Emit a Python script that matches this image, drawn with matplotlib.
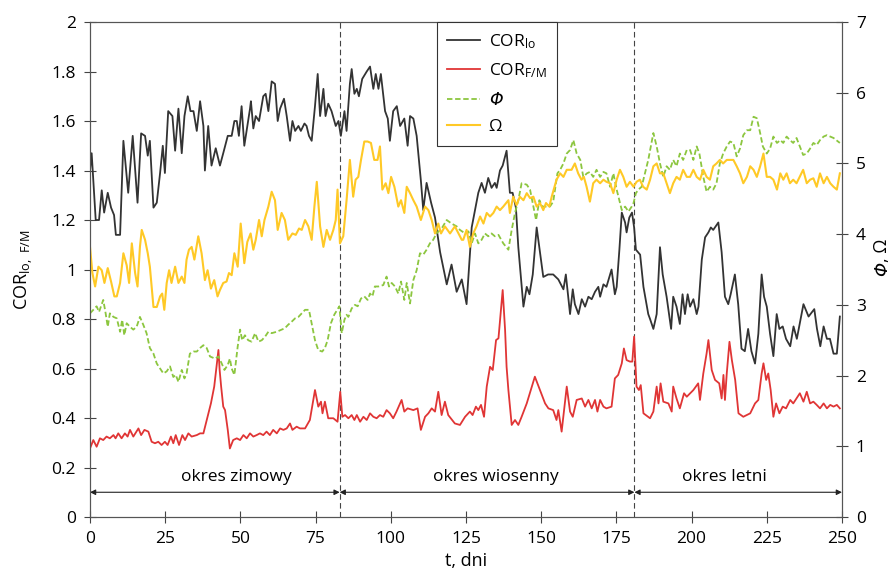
import matplotlib
matplotlib.use('Agg')
import matplotlib.pyplot as plt
from matplotlib.lines import Line2D

plt.rcParams['font.family'] = ['Open Sans', 'DejaVu Sans']
plt.rcParams['mathtext.fontset'] = 'custom'
plt.rcParams['mathtext.rm'] = 'Open Sans'
plt.rcParams['mathtext.default'] = 'regular'

# COR lo (lewa oś) - dni i wartości
lo_days = [0.0, 0.55, 1.9, 3.0, 3.9, 4.7, 5.9, 7.0, 8.0, 8.6, 10.0, 11.1, 12.7, 14.2, 15.8, 17.0, 18.3,
           19.2, 19.9, 21.1, 22.2, 23.3, 24.2, 24.9, 26.0, 27.4, 28.3, 29.4, 30.5, 31.4, 32.5, 33.4, 34.4,
           35.5, 36.6, 37.7, 38.2, 39.3, 40.4, 41.8, 43.2, 44.3, 45.8, 47.1, 48.0, 48.8, 49.5, 50.4, 51.3,
           53.2, 53.5, 54.3, 55.1, 56.2, 57.6, 58.4, 59.3, 60.4, 61.5, 62.4, 63.2, 64.5, 65.4, 66.5, 67.3,
           68.2, 69.3, 70.1, 71.3, 72.0, 72.8, 73.7, 74.8, 75.7, 76.5, 77.6, 78.3, 79.2, 80.3, 81.7, 82.6,
           83.4, 84.6, 85.3, 86.4, 87.0, 87.9, 88.7, 89.4, 90.5, 92.0, 93.1, 94.2, 95.0, 95.9, 96.7, 98.1,
           99.0, 99.7, 100.8, 102.0, 103.1, 104.5, 105.6, 106.4, 107.5, 108.6, 110.0, 110.8, 111.9, 113.4,
           114.7, 116.4, 118.6, 120.2, 121.9, 123.6, 125.2, 126.9, 129.1, 130.2, 131.3, 132.4, 133.5, 134.6,
           135.2, 136.3, 137.2, 138.5, 139.6, 140.5, 141.6, 142.4, 144.1, 145.2, 146.1, 147.2, 148.5, 149.6,
           150.7, 152.3, 154.0, 155.7, 157.4, 158.2, 159.6, 160.5, 161.2, 162.4, 163.5, 164.6, 165.7, 166.8,
           167.9, 169.0, 169.6, 170.7, 171.7, 173.4, 174.5, 175.1, 176.0, 176.8, 177.9, 178.4, 179.3, 180.2,
           180.9, 181.5, 182.9, 184.0, 185.6, 186.2, 187.3, 188.4, 189.5, 190.4, 191.7, 193.2, 193.9, 195.0,
           196.1, 197.0, 197.8, 198.7, 199.5, 200.6, 201.7, 202.3, 203.4, 204.5, 205.6, 206.4, 207.2, 208.9,
           210.0, 211.1, 212.2, 213.0, 214.4, 215.5, 216.6, 217.7, 218.8, 219.9, 221.1, 222.2, 223.3, 224.1,
           225.0, 226.1, 227.2, 228.3, 229.2, 230.3, 231.4, 232.8, 233.9, 235.0, 237.2, 238.9, 240.8, 241.7,
           242.8, 243.9, 245.0, 246.0, 247.2, 248.3, 249.3]
lo_vals = [1.40, 1.47, 1.20, 1.20, 1.32, 1.23, 1.31, 1.25, 1.22, 1.14, 1.14, 1.52, 1.31, 1.54, 1.27, 1.55, 1.54,
           1.46, 1.52, 1.25, 1.27, 1.39, 1.50, 1.39, 1.64, 1.62, 1.48, 1.65, 1.47, 1.62, 1.70, 1.64, 1.64,
           1.56, 1.68, 1.58, 1.40, 1.58, 1.42, 1.49, 1.42, 1.47, 1.54, 1.54, 1.60, 1.60, 1.54, 1.66, 1.50,
           1.65, 1.68, 1.57, 1.62, 1.60, 1.70, 1.71, 1.64, 1.76, 1.75, 1.60, 1.65, 1.69, 1.62, 1.52, 1.60,
           1.56, 1.58, 1.56, 1.59, 1.58, 1.54, 1.52, 1.66, 1.79, 1.62, 1.73, 1.62, 1.67, 1.64, 1.58, 1.60,
           1.54, 1.64, 1.56, 1.75, 1.81, 1.71, 1.73, 1.70, 1.77, 1.80, 1.82, 1.73, 1.79, 1.73, 1.79, 1.64,
           1.61, 1.52, 1.64, 1.66, 1.58, 1.61, 1.50, 1.62, 1.61, 1.54, 1.36, 1.24, 1.35, 1.27,
           1.21, 1.07, 0.94, 1.02, 0.91, 0.96, 0.86, 1.17, 1.31, 1.35, 1.31, 1.37, 1.33, 1.35,
           1.33, 1.40, 1.42, 1.48, 1.31, 1.31, 1.25, 1.09, 0.85, 0.93, 0.90, 0.98, 1.17, 1.07,
           0.97, 0.98, 0.98, 0.96, 0.92, 0.98, 0.82, 0.92, 0.86, 0.82, 0.88, 0.85, 0.89, 0.88,
           0.91, 0.93, 0.89, 0.94, 0.93, 1.00, 0.90, 0.93, 1.08, 1.23, 1.19, 1.15, 1.21, 1.23,
           1.17, 1.08, 1.06, 0.93, 0.82, 0.80, 0.76, 0.82, 1.09, 0.98, 0.89, 0.76, 0.89, 0.85,
           0.78, 0.90, 0.82, 0.90, 0.85, 0.88, 0.82, 0.85, 1.04, 1.13, 1.15, 1.17, 1.16, 1.19,
           1.07, 0.89, 0.86, 0.90, 0.98, 0.86, 0.68, 0.67, 0.76, 0.67, 0.62, 0.74, 0.98, 0.89,
           0.85, 0.74, 0.65, 0.82, 0.76, 0.77, 0.72, 0.69, 0.77, 0.72, 0.86, 0.81, 0.84, 0.76,
           0.69, 0.77, 0.72, 0.72, 0.66, 0.66, 0.81]

# COR F/M (lewa oś)
fm_days = [0.0, 1.1, 2.2, 3.3, 4.4, 5.5, 6.6, 7.8, 8.5, 9.4, 10.5, 11.6, 12.5, 13.3, 14.4, 16.1, 17.0, 18.1,
           19.4, 20.5, 21.6, 22.7, 23.8, 24.9, 25.8, 26.9, 27.7, 28.5, 29.6, 30.7, 31.6, 32.7, 33.8, 35.5,
           36.6, 37.7, 38.8, 40.2, 41.3, 42.7, 43.1, 43.6, 44.3, 44.9, 45.8, 46.5, 47.6, 48.8, 49.9, 51.0,
           52.1, 53.2, 54.3, 55.4, 56.5, 57.6, 58.7, 59.8, 60.9, 62.1, 63.2, 64.3, 65.4, 66.5, 67.3, 68.7,
           69.8, 71.5, 73.1, 74.8, 75.9, 76.8, 77.3, 78.1, 79.2, 80.9, 82.3, 83.2, 83.9, 84.8, 85.9, 87.0,
           87.9, 88.7, 89.8, 90.9, 92.0, 93.1, 94.2, 95.3, 96.4, 97.5, 98.6, 99.7, 100.8, 101.9, 103.6,
           104.5, 105.6, 107.5, 108.9, 110.0, 111.4, 112.5, 113.6, 114.7, 115.8, 116.9, 118.0, 119.1,
           121.3, 123.0, 124.7, 126.3, 127.2, 128.3, 129.1, 130.0, 131.0, 131.9, 133.0, 133.9, 135.0,
           135.8, 137.2, 138.0, 138.5, 139.1, 140.2, 141.3, 142.4, 143.5, 145.2, 147.9, 149.6, 151.3,
           152.4, 154.0, 155.1, 155.7, 156.8, 158.5, 159.6, 160.5, 161.8, 163.5, 164.6, 165.7, 166.8,
           167.9, 168.7, 169.6, 170.7, 171.7, 173.4, 174.5, 175.6, 176.8, 177.5, 178.4, 179.5, 180.3,
           180.9, 181.7, 182.5, 183.1, 184.0, 186.2, 187.3, 188.4, 189.0, 189.7, 190.6, 192.3, 193.4,
           193.9, 195.0, 196.1, 197.5, 198.4, 200.6, 202.2, 202.8, 203.9, 205.0, 205.6, 206.7, 207.8,
           209.2, 210.0, 210.6, 211.1, 211.7, 212.6, 213.4, 214.5, 215.6, 217.2, 219.5, 221.1, 222.2,
           223.3, 223.9, 224.8, 225.5, 226.3, 227.2, 228.1, 229.2, 230.3, 231.4, 232.8, 233.8, 236.0,
           237.2, 238.3, 239.4, 240.5, 241.6, 242.7, 243.9, 245.0, 246.1, 247.2, 248.3, 249.3]
fm_vals = [0.277, 0.311, 0.284, 0.318, 0.311, 0.325, 0.318, 0.331, 0.318, 0.338, 0.318, 0.338, 0.325, 0.352,
           0.325, 0.358, 0.331, 0.352, 0.345, 0.304, 0.298, 0.304, 0.291, 0.304, 0.291, 0.325, 0.298, 0.331,
           0.291, 0.331, 0.311, 0.338, 0.325, 0.331, 0.338, 0.338, 0.392, 0.459, 0.527, 0.675, 0.594, 0.527,
           0.446, 0.432, 0.352, 0.277, 0.311, 0.318, 0.311, 0.331, 0.318, 0.338, 0.325, 0.331, 0.338, 0.331,
           0.345, 0.331, 0.352, 0.338, 0.358, 0.352, 0.358, 0.378, 0.352, 0.365, 0.358, 0.358, 0.392, 0.513,
           0.446, 0.466, 0.419, 0.466, 0.399, 0.399, 0.385, 0.506, 0.405, 0.412, 0.399, 0.412, 0.392, 0.412,
           0.385, 0.405, 0.392, 0.419, 0.405, 0.399, 0.412, 0.405, 0.432, 0.419, 0.399, 0.426, 0.473, 0.426,
           0.439, 0.432, 0.439, 0.352, 0.405, 0.419, 0.439, 0.426, 0.506, 0.412, 0.466, 0.412, 0.378, 0.372,
           0.405, 0.426, 0.412, 0.446, 0.432, 0.453, 0.405, 0.527, 0.607, 0.594, 0.715, 0.722, 0.917, 0.756,
           0.607, 0.513, 0.372, 0.392, 0.372, 0.405, 0.459, 0.567, 0.513, 0.459, 0.439, 0.432, 0.392, 0.432,
           0.345, 0.527, 0.426, 0.405, 0.473, 0.479, 0.446, 0.473, 0.439, 0.473, 0.426, 0.473, 0.446, 0.439,
           0.446, 0.560, 0.574, 0.621, 0.681, 0.634, 0.628, 0.628, 0.729, 0.527, 0.513, 0.533, 0.419, 0.399,
           0.426, 0.527, 0.459, 0.540, 0.466, 0.459, 0.426, 0.527, 0.479, 0.439, 0.500, 0.486, 0.513, 0.540,
           0.473, 0.580, 0.661, 0.715, 0.594, 0.554, 0.540, 0.479, 0.574, 0.473, 0.580, 0.708, 0.634, 0.554,
           0.419, 0.405, 0.419, 0.459, 0.473, 0.580, 0.621, 0.554, 0.580, 0.513, 0.405, 0.459, 0.419, 0.446,
           0.439, 0.473, 0.459, 0.500, 0.466, 0.506, 0.459, 0.466, 0.453, 0.439, 0.459, 0.439, 0.453, 0.446,
           0.453, 0.439]

# Phi (prawa oś)
phi_days = [0.0, 1.1, 2.2, 3.0, 4.4, 5.2, 5.9, 6.6, 7.8, 8.9, 10.0, 10.7, 11.4, 12.2, 13.3, 14.4, 15.5, 16.6,
            17.7, 18.8, 19.9, 21.1, 22.2, 23.3, 24.4, 25.5, 26.6, 27.7, 28.5, 29.4, 30.5, 31.4, 32.1, 33.2,
            34.4, 35.5, 36.6, 37.7, 38.8, 39.9, 41.6, 42.7, 43.8, 44.7, 45.8, 46.5, 47.1, 48.0, 49.1, 49.9,
            50.6, 51.5, 52.6, 53.7, 54.9, 56.0, 57.1, 58.2, 59.3, 60.4, 62.1, 63.7, 64.8, 65.9, 67.0, 68.2,
            69.3, 70.4, 71.5, 72.8, 73.9, 74.8, 75.9, 77.2, 78.1, 79.0, 80.1, 81.2, 82.2, 82.9, 83.7, 84.6,
            85.3, 85.9, 87.0, 88.1, 89.0, 90.1, 91.2, 92.3, 93.1, 93.9, 94.7, 95.9, 97.5, 98.6, 99.4, 100.3,
            101.4, 102.5, 103.4, 104.5, 105.3, 106.4, 107.5, 108.6, 109.7, 110.8, 111.9, 113.0, 114.1, 115.2,
            116.9, 118.6, 120.2, 121.9, 123.0, 124.7, 125.8, 126.9, 128.0, 129.1, 130.2, 131.3, 132.4,
            133.5, 134.6, 135.8, 137.4, 139.1, 140.2, 141.3, 142.4, 143.5, 145.2, 146.3, 147.4, 148.3,
            149.4, 150.4, 151.6, 152.9, 154.0, 155.4, 156.3, 157.4, 158.5, 159.6, 160.7, 161.8, 163.0,
            164.0, 165.2, 166.2, 167.3, 168.4, 169.6, 170.7, 171.7, 172.9, 174.0, 175.1, 176.8, 177.9,
            179.0, 180.1, 180.7, 181.5, 182.3, 183.4, 184.5, 185.6, 187.3, 188.4, 189.5, 190.6, 191.7,
            192.8, 193.9, 195.0, 196.1, 197.2, 198.4, 199.5, 200.6, 201.7, 202.6, 203.9, 205.0, 206.1,
            207.2, 208.3, 209.4, 210.5, 211.7, 212.8, 213.9, 215.0, 216.1, 217.2, 218.4, 219.5, 220.6,
            221.7, 222.8, 223.7, 225.0, 226.1, 227.2, 228.4, 229.5, 230.5, 231.6, 232.7, 233.8, 234.9,
            236.0, 237.1, 238.3, 239.4, 240.5, 241.6, 242.7, 243.9, 245.0, 246.1, 247.2, 249.3]
phi_vals = [2.88, 2.93, 2.98, 2.90, 3.07, 2.88, 2.69, 2.88, 2.83, 2.81, 2.62, 2.79, 2.57, 2.74, 2.69, 2.65,
            2.69, 2.83, 2.72, 2.60, 2.39, 2.31, 2.17, 2.10, 2.03, 2.06, 2.13, 1.98, 2.01, 1.91, 2.08, 1.96,
            2.03, 2.31, 2.34, 2.34, 2.39, 2.43, 2.39, 2.27, 2.24, 2.27, 2.17, 2.08, 2.15, 2.24, 2.10, 2.01,
            2.41, 2.65, 2.50, 2.57, 2.50, 2.48, 2.60, 2.48, 2.50, 2.55, 2.62, 2.60, 2.62, 2.65, 2.67, 2.72,
            2.76, 2.81, 2.83, 2.88, 2.93, 2.93, 2.69, 2.50, 2.36, 2.34, 2.39, 2.50, 2.74, 2.86, 2.93, 2.98,
            2.60, 2.79, 2.86, 2.83, 2.95, 3.00, 2.98, 3.09, 3.12, 3.07, 3.16, 3.12, 3.26, 3.26, 3.28, 3.40,
            3.26, 3.31, 3.26, 3.16, 3.33, 3.07, 3.31, 3.02, 3.35, 3.49, 3.73, 3.71, 3.78, 3.87, 3.92, 4.01,
            4.08, 4.20, 4.15, 4.11, 4.06, 4.01, 4.04, 3.87, 4.01, 3.87, 3.92, 4.01, 3.97, 4.01, 3.97, 3.99,
            3.87, 3.78, 4.06, 4.30, 4.48, 4.72, 4.70, 4.63, 4.39, 4.20, 4.48, 4.39, 4.39, 4.39, 4.46, 4.86,
            4.91, 5.00, 5.14, 5.19, 5.33, 5.14, 5.05, 4.81, 4.86, 4.88, 4.81, 4.91, 4.81, 4.88, 4.86, 4.67,
            4.86, 4.63, 4.34, 4.39, 4.32, 4.39, 4.44, 4.58, 4.63, 4.67, 4.86, 5.05, 5.43, 5.24, 5.00, 4.81,
            4.96, 4.91, 5.05, 4.96, 5.14, 5.05, 5.19, 5.19, 5.05, 5.24, 5.14, 4.81, 4.60, 4.67, 4.63, 4.72,
            5.00, 5.14, 5.24, 5.31, 5.29, 5.10, 5.21, 5.40, 5.47, 5.47, 5.66, 5.64, 5.43, 5.24, 5.14, 5.21,
            5.38, 5.29, 5.33, 5.29, 5.38, 5.33, 5.29, 5.36, 5.24, 5.12, 5.14, 5.21, 5.29, 5.26, 5.33, 5.38,
            5.40, 5.38, 5.36, 5.29]

# Omega (prawa oś)
om_days = [0.0, 0.8, 1.7, 2.8, 3.9, 4.8, 5.9, 7.0, 8.1, 8.9, 10.0, 11.1, 12.2, 13.0, 13.9, 15.0, 15.8, 16.6,
           17.2, 18.3, 19.2, 19.9, 21.1, 22.2, 23.3, 24.0, 24.7, 25.5, 26.3, 27.1, 28.3, 29.4, 30.5, 31.4,
           32.1, 32.9, 33.8, 34.7, 36.0, 37.1, 38.2, 39.1, 40.2, 41.3, 42.4, 43.2, 44.3, 45.4, 46.2, 47.1,
           48.0, 49.1, 50.1, 51.3, 52.3, 53.4, 54.3, 55.1, 56.2, 57.1, 58.0, 59.3, 60.4, 61.5, 62.4, 63.7,
           64.8, 65.9, 67.3, 68.4, 69.5, 70.4, 71.5, 72.6, 73.7, 74.6, 75.4, 76.5, 77.6, 78.7, 79.8, 80.9,
           81.7, 82.3, 83.1, 84.2, 85.3, 86.4, 87.5, 88.3, 89.2, 90.1, 91.2, 92.3, 93.4, 94.5, 95.6, 96.4,
           97.2, 98.3, 99.2, 100.1, 101.2, 102.5, 103.4, 104.5, 105.3, 106.4, 107.5, 108.6, 110.0, 111.4,
           112.5, 113.6, 114.7, 115.8, 116.7, 118.0, 119.7, 121.3, 123.6, 124.1, 125.2, 126.3, 127.4,
           128.5, 129.7, 130.8, 131.9, 133.0, 134.1, 135.2, 136.3, 137.4, 139.1, 139.6, 140.7, 141.8,
           142.9, 144.1, 145.2, 146.3, 147.4, 148.5, 149.6, 150.7, 151.6, 152.7, 153.5, 155.1, 156.3,
           157.4, 158.5, 160.1, 161.2, 162.3, 163.4, 164.2, 165.1, 166.2, 167.3, 168.4, 169.6, 170.7,
           171.7, 172.9, 174.0, 175.1, 176.2, 177.3, 178.4, 179.5, 180.7, 181.7, 182.8, 183.9, 185.1,
           186.2, 187.3, 188.4, 189.5, 190.6, 191.7, 192.8, 193.9, 195.0, 196.1, 197.2, 198.4, 199.5,
           200.6, 201.7, 202.8, 203.9, 205.0, 206.1, 207.2, 208.3, 209.4, 210.5, 211.7, 212.8, 213.9,
           215.0, 216.1, 217.2, 218.4, 219.5, 220.6, 221.7, 222.8, 223.9, 225.0, 226.1, 227.2, 228.4,
           229.5, 230.5, 231.6, 232.7, 233.8, 234.9, 237.1, 238.3, 239.4, 240.5, 241.6, 242.7, 243.9,
           245.0, 246.1, 247.2, 248.3, 249.3]
om_vals = [3.82, 3.45, 3.26, 3.54, 3.49, 3.31, 3.52, 3.33, 3.12, 3.12, 3.31, 3.73, 3.56, 3.31, 3.87, 3.45,
           3.26, 3.82, 4.06, 3.92, 3.73, 3.54, 2.97, 2.97, 3.12, 3.16, 2.93, 3.31, 3.49, 3.31, 3.54, 3.31,
           3.40, 3.31, 3.64, 3.78, 3.82, 3.64, 3.97, 3.73, 3.35, 3.49, 3.23, 3.35, 3.12, 3.21, 3.31, 3.33,
           3.45, 3.42, 3.73, 3.54, 4.15, 3.59, 3.89, 4.01, 3.78, 3.92, 4.20, 3.97, 4.20, 4.39, 4.60, 4.48,
           4.06, 4.30, 4.20, 3.92, 4.01, 3.99, 4.08, 4.06, 4.20, 4.11, 3.92, 4.39, 4.74, 4.11, 3.82, 4.06,
           3.92, 4.06, 4.20, 4.63, 3.87, 3.97, 4.48, 5.05, 4.53, 4.77, 4.81, 5.05, 5.31, 5.31, 5.29, 5.05,
           5.05, 5.24, 4.63, 4.72, 4.58, 4.81, 4.67, 4.39, 4.48, 4.30, 4.67, 4.58, 4.48, 4.39, 4.20, 4.39,
           4.34, 4.20, 4.01, 4.15, 4.01, 4.11, 4.01, 4.11, 3.92, 3.92, 4.06, 3.82, 4.01, 4.11, 4.25, 4.15,
           4.30, 4.25, 4.30, 4.39, 4.34, 4.39, 4.48, 4.30, 4.53, 4.41, 4.53, 4.48, 4.58, 4.51, 4.53, 4.39,
           4.44, 4.34, 4.44, 4.39, 4.53, 4.77, 4.86, 4.81, 4.91, 4.91, 5.00, 4.86, 4.77, 4.81, 4.67, 4.46,
           4.72, 4.77, 4.72, 4.77, 4.74, 4.72, 4.58, 4.77, 4.91, 4.81, 4.67, 4.74, 4.67, 4.74, 4.77, 4.67,
           4.63, 4.77, 4.96, 5.00, 4.86, 4.86, 4.72, 4.58, 4.72, 4.81, 4.77, 4.91, 4.81, 4.81, 4.91, 4.81,
           4.77, 4.91, 4.81, 4.77, 4.96, 5.00, 5.05, 5.00, 5.05, 5.05, 5.05, 4.96, 4.86, 4.72, 4.81, 4.96,
           4.91, 4.81, 4.96, 5.14, 4.81, 4.81, 4.77, 4.63, 4.86, 4.77, 4.86, 4.72, 4.77, 4.72, 4.91, 4.72,
           4.77, 4.79, 4.67, 4.86, 4.72, 4.81, 4.72, 4.67, 4.63, 4.86]

# okresy
period_bounds = [0, 83, 181, 250]
period_names = ['okres zimowy', 'okres wiosenny', 'okres letni']
period_label_x = [48.5, 135, 211]

x_ticks = [0, 25, 50, 75, 100, 125, 150, 175, 200, 225, 250]

fig = plt.figure(figsize=(8.92, 5.84), dpi=100)
ax = fig.add_axes([0.1009, 0.1147, 0.843, 0.8476])
ax2 = ax.twinx()

ax.plot(lo_days, lo_vals, color='#333333', lw=1.3, zorder=3)
ax.plot(fm_days, fm_vals, color='#e03535', lw=1.3, zorder=3)
ax2.plot(phi_days, phi_vals, color='#8cc63f', lw=1.3, ls=(0, (3, 1.5)), zorder=2)
ax2.plot(om_days, om_vals, color='#ffc926', lw=1.5, zorder=2)

ax.set_xlim(0, 250)
ax.set_ylim(0, 2)
ax2.set_ylim(0, 7)
ax.set_xticks(x_ticks)
ax.set_yticks([0, 0.2, 0.4, 0.6, 0.8, 1, 1.2, 1.4, 1.6, 1.8, 2])
ax.set_yticklabels(['0', '0.2', '0.4', '0.6', '0.8', '1', '1.2', '1.4', '1.6', '1.8', '2'])
ax2.set_yticks(range(8))

for a in (ax, ax2):
    a.tick_params(direction='inout', length=8, width=0.8, color='#444444', labelsize=12.5, pad=6)
    for s in a.spines.values():
        s.set_color('#555555')
        s.set_linewidth(0.8)

# linie podzialu okresow
for b in period_bounds[1:3]:
    ax.axvline(b, color='#444444', lw=0.8, ls=(0, (5, 3)), zorder=1)

for i in range(3):
    ax.annotate('', xy=(period_bounds[i + 1], 0.1), xytext=(period_bounds[i], 0.1),
                arrowprops=dict(arrowstyle='<|-|>', color='#222222', lw=0.8,
                                shrinkA=0, shrinkB=0, mutation_scale=8))
    ax.text(period_label_x[i], 0.16, period_names[i], ha='center', va='center', fontsize=12.5)

ax.set_xlabel('t, dni', fontsize=13)
ax.set_ylabel('COR$_{lo,\\ F/M}$', fontsize=13, labelpad=12)

# opis prawej osi: Φ kursywą, Ω prosto
fig.text(882 / 892, 0.551, 'Φ', rotation=90, rotation_mode='anchor', ha='right', va='center',
         fontsize=13, family='DejaVu Sans', style='italic')
fig.text(882 / 892, 0.551, ', Ω', rotation=90, rotation_mode='anchor', ha='left', va='center',
         fontsize=13)

handles = [Line2D([], [], color='#333333', lw=1.3),
           Line2D([], [], color='#e03535', lw=1.3),
           Line2D([], [], color='#8cc63f', lw=1.3, ls=(0, (3, 1.5))),
           Line2D([], [], color='#ffc926', lw=1.5)]
labels = ['COR$_{lo}$', 'COR$_{F/M}$', 'Φ', 'Ω']
leg = ax2.legend(handles, labels, loc='upper left', bbox_to_anchor=(0.461, 1.0), fontsize=12.5,
                 frameon=True, fancybox=False, edgecolor='#333333', framealpha=1, borderaxespad=0,
                 handlelength=1.9, handletextpad=0.5, borderpad=0.6, labelspacing=0.6)
leg.get_frame().set_linewidth(0.8)
leg.get_texts()[2].set_family('DejaVu Sans')
leg.get_texts()[2].set_style('italic')

plt.savefig('out.png', dpi=100)
